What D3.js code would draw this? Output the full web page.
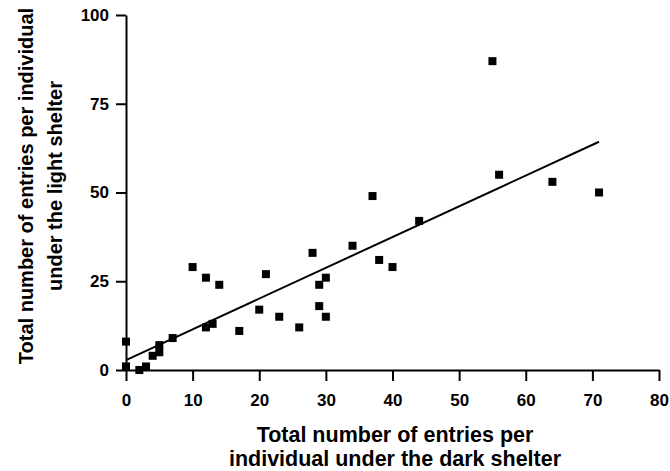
<!DOCTYPE html>
<html>
<head>
<meta charset="utf-8">
<script src="https://cdn.jsdelivr.net/npm/d3@7"></script>
<style>
  body { margin: 0; background: #fff; }
  svg text { font-family: "Liberation Sans", Arial, sans-serif; font-weight: bold; fill: #000; }
</style>
</head>
<body>
<div id="chart"></div>
<script>
// Dimensions de la fenêtre
const width = 670;
const height = 471;

// Données (entrées abri sombre / abri clair)
const darkEntries  = [0, 0, 2, 3, 4, 5, 5, 7, 10, 12, 12, 13, 14, 17, 20, 21, 23, 26, 28, 29, 29, 30, 30, 34, 37, 38, 40, 44, 55, 56, 64, 71];
const lightEntries = [8, 1, 0, 1, 4, 7, 5, 9, 29, 26, 12, 13, 24, 11, 17, 27, 15, 12, 33, 24, 18, 26, 15, 35, 49, 31, 29, 42, 87, 55, 53, 50];

// Droite de régression (extrémités lues)
const fitX = [0, 71];
const fitY = [2.8, 64.3];

// Graduations
const xTicks = [0, 10, 20, 30, 40, 50, 60, 70, 80];
const yTicks = [0, 25, 50, 75, 100];

const xTitle = ["Total number of entries per", "individual under the dark shelter"];
const yTitle = ["Total number of entries per individual", "under the light shelter"];

const margin = { left: 126, right: 11, top: 15, bottom: 101 };

const x = d3.scaleLinear().domain([0, 80]).range([margin.left, width - margin.right]);
const y = d3.scaleLinear().domain([0, 100]).range([height - margin.bottom, margin.top]);

const svg = d3.select("#chart")
    .append("svg")
    .attr("width", width)
    .attr("height", height);

// --- Axes ---
const xAxis = svg.append("g")
    .attr("transform", `translate(0,${y(0)})`)
    .call(d3.axisBottom(x).tickValues(xTicks).tickSize(11).tickPadding(13).tickSizeOuter(0));

const yAxis = svg.append("g")
    .attr("transform", `translate(${x(0)},0)`)
    .call(d3.axisLeft(y).tickValues(yTicks).tickSize(10).tickPadding(7).tickSizeOuter(0));

[xAxis, yAxis].forEach(g => {
    g.select(".domain").attr("stroke", "#000").attr("stroke-width", 2);
    g.selectAll(".tick line").attr("stroke", "#000").attr("stroke-width", 2);
    g.selectAll(".tick text").attr("font-size", "17px").attr("fill", "#000");
});

// --- Droite de régression ---
svg.append("line")
    .attr("x1", x(fitX[0])).attr("y1", y(fitY[0]))
    .attr("x2", x(fitX[1])).attr("y2", y(fitY[1]))
    .attr("stroke", "#000")
    .attr("stroke-width", 2);

// --- Points (carrés) ---
const size = 8;
svg.append("g")
    .selectAll("rect")
    .data(darkEntries.map((d, i) => ({ x: d, y: lightEntries[i] })))
    .join("rect")
    .attr("x", d => x(d.x) - size / 2)
    .attr("y", d => y(d.y) - size / 2)
    .attr("width", size)
    .attr("height", size)
    .attr("fill", "#000");

// --- Titres des axes ---
svg.append("g")
    .selectAll("text")
    .data(xTitle)
    .join("text")
    .attr("x", 395)
    .attr("y", (d, i) => 442 + i * 24)
    .attr("text-anchor", "middle")
    .attr("font-size", "21.5px")
    .text(d => d);

svg.append("g")
    .attr("transform", "translate(0,186) rotate(-90)")
    .selectAll("text")
    .data(yTitle)
    .join("text")
    .attr("x", 0)
    .attr("y", (d, i) => 33 + i * 29)
    .attr("text-anchor", "middle")
    .attr("font-size", "20px")
    .text(d => d);
</script>
</body>
</html>
